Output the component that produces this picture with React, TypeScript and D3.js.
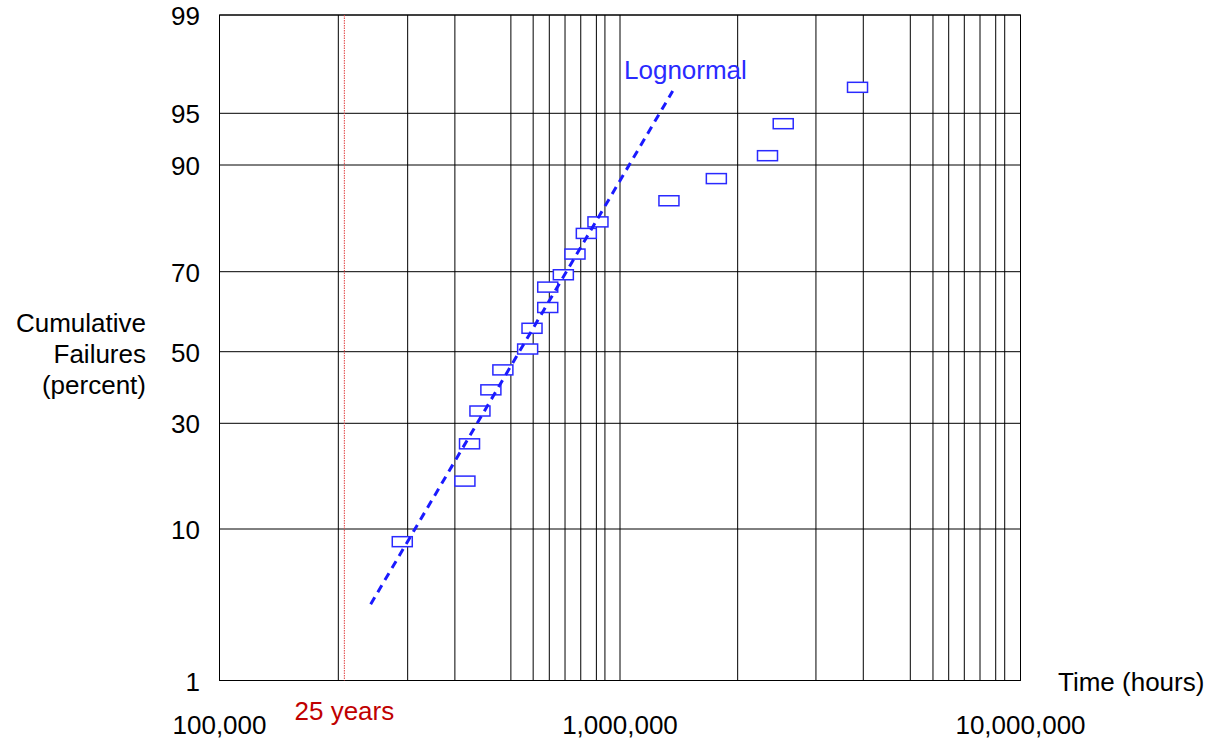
import React from "react";
import * as d3 from "d3";

// failure times (hours) and cumulative failure percentages
const failureHours = [
  286000, 410000, 421000, 447000, 476000, 510000, 588000, 603000, 660000,
  660000, 722000, 772000, 824000, 881000, 1325000, 1740000, 2335000, 2556000,
  3918000,
];
const failurePercent = [
  8.55, 17.4, 25.1, 33.2, 39.0, 44.7, 50.7, 56.1, 61.4, 66.4, 69.3, 74.2, 78.7,
  81.0, 84.8, 88.2, 91.1, 94.2, 96.6,
];

// fitted lognormal line end points
const fitHours = [238500, 1354000];
const fitPercent = [3.59, 96.4];

// probability paper gridlines
const percentTicks = [1, 10, 30, 50, 70, 90, 95, 99];
const percentTickY = [680.5, 529, 423.3, 351.7, 271.7, 165, 113.3, 15];
const hourGrid = [
  198000, 295000, 387000, 534000, 607000, 666000, 729000, 798000, 873000,
  917000, 1000000, 1967000, 3085000, 4050000, 5307000, 6046000, 6618000,
  7239000, 7923000, 8672000, 9132000,
];
const hourLabels = [
  { value: 100000, label: "100,000" },
  { value: 1000000, label: "1,000,000" },
  { value: 10000000, label: "10,000,000" },
];
const markerHours = 205000;
const markerLabel = "25 years";

// inverse standard normal cdf (Acklam)
function probit(p: number) {
  const a = [-39.69683028665376, 220.9460984245205, -275.9285104469687, 138.357751867269, -30.66479806614716, 2.506628277459239];
  const b = [-54.47609879822406, 161.5858368580409, -155.6989798598866, 66.80131188771972, -13.28068155288572];
  const c = [-0.007784894002430293, -0.3223964580411365, -2.400758277161838, -2.549732539343734, 4.374664141464968, 2.938163982698783];
  const dd = [0.007784695709041462, 0.3224671290700398, 2.445134137142996, 3.754408661907416];
  const pl = 0.02425;
  if (p < pl) {
    const q = Math.sqrt(-2 * Math.log(p));
    return (((((c[0] * q + c[1]) * q + c[2]) * q + c[3]) * q + c[4]) * q + c[5]) /
      ((((dd[0] * q + dd[1]) * q + dd[2]) * q + dd[3]) * q + 1);
  }
  if (p > 1 - pl) {
    const q = Math.sqrt(-2 * Math.log(1 - p));
    return -(((((c[0] * q + c[1]) * q + c[2]) * q + c[3]) * q + c[4]) * q + c[5]) /
      ((((dd[0] * q + dd[1]) * q + dd[2]) * q + dd[3]) * q + 1);
  }
  const q = p - 0.5;
  const r = q * q;
  return ((((((a[0] * r + a[1]) * r + a[2]) * r + a[3]) * r + a[4]) * r + a[5]) * q) /
    (((((b[0] * r + b[1]) * r + b[2]) * r + b[3]) * r + b[4]) * r + 1);
}

export default function App() {
  const left = 219.5;
  const right = 1020.5;
  const top = 15;
  const bottom = 680.5;
  const font = "'Liberation Sans', Arial, sans-serif";

  const x = d3.scaleLog().domain([1e5, 1e7]).range([left, right]);
  const zScale = d3
    .scaleLinear()
    .domain(percentTicks.map((p) => probit(p / 100)))
    .range(percentTickY);
  const y = (p: number) => zScale(probit(p / 100));

  const fit = fitHours.map((h, i) => [x(h), y(fitPercent[i])] as [number, number]);
  const line = d3.line();

  return (
    <svg
      width={1209}
      height={744}
      style={{ position: "absolute", left: 0, top: 0, background: "#fff" }}
      fontFamily={font}
      fontSize={26}
    >
      {/* vertical grid */}
      {hourGrid.map((h, i) => (
        <line key={"v" + i} x1={x(h)} x2={x(h)} y1={top} y2={bottom} stroke="#000" strokeWidth={1} />
      ))}
      {/* horizontal grid */}
      {percentTicks.map((p, i) => (
        <line key={"h" + i} x1={left} x2={right} y1={y(p)} y2={y(p)} stroke="#000" strokeWidth={1} />
      ))}
      <rect x={left} y={top} width={right - left} height={bottom - top} fill="none" stroke="#000" strokeWidth={1} />

      {/* 25 years marker */}
      <line
        x1={x(markerHours)}
        x2={x(markerHours)}
        y1={top}
        y2={bottom}
        stroke="#e04040"
        strokeWidth={1}
        strokeDasharray="1.5 1"
      />
      <text x={x(markerHours)} y={720} textAnchor="middle" fill="#c00000">
        {markerLabel}
      </text>

      {/* data points */}
      {failureHours.map((h, i) => (
        <rect
          key={"p" + i}
          x={x(h) - 10}
          y={y(failurePercent[i]) - 5}
          width={20}
          height={10}
          fill="#fff"
          stroke="#2a2aff"
          strokeWidth={1.5}
        />
      ))}

      {/* lognormal fit */}
      <path d={line(fit) || ""} fill="none" stroke="#1a1aff" strokeWidth={3} strokeDasharray="8 6" />
      <text x={624} y={79} fill="#2a2aff">
        Lognormal
      </text>

      {/* y tick labels */}
      {percentTicks.map((p, i) => (
        <text key={"yt" + i} x={200} y={y(p) + 10} textAnchor="end" fill="#000">
          {p}
        </text>
      ))}
      {/* x labels */}
      {hourLabels.map((d, i) => (
        <text key={"xt" + i} x={x(d.value)} y={734} textAnchor="middle" fill="#000">
          {d.label}
        </text>
      ))}

      <text x={1058} y={691} fill="#000">
        Time (hours)
      </text>
      <text x={146} textAnchor="end" fill="#000">
        <tspan x={146} y={332}>Cumulative</tspan>
        <tspan x={146} y={363}>Failures</tspan>
        <tspan x={146} y={394}>(percent)</tspan>
      </text>
    </svg>
  );
}
